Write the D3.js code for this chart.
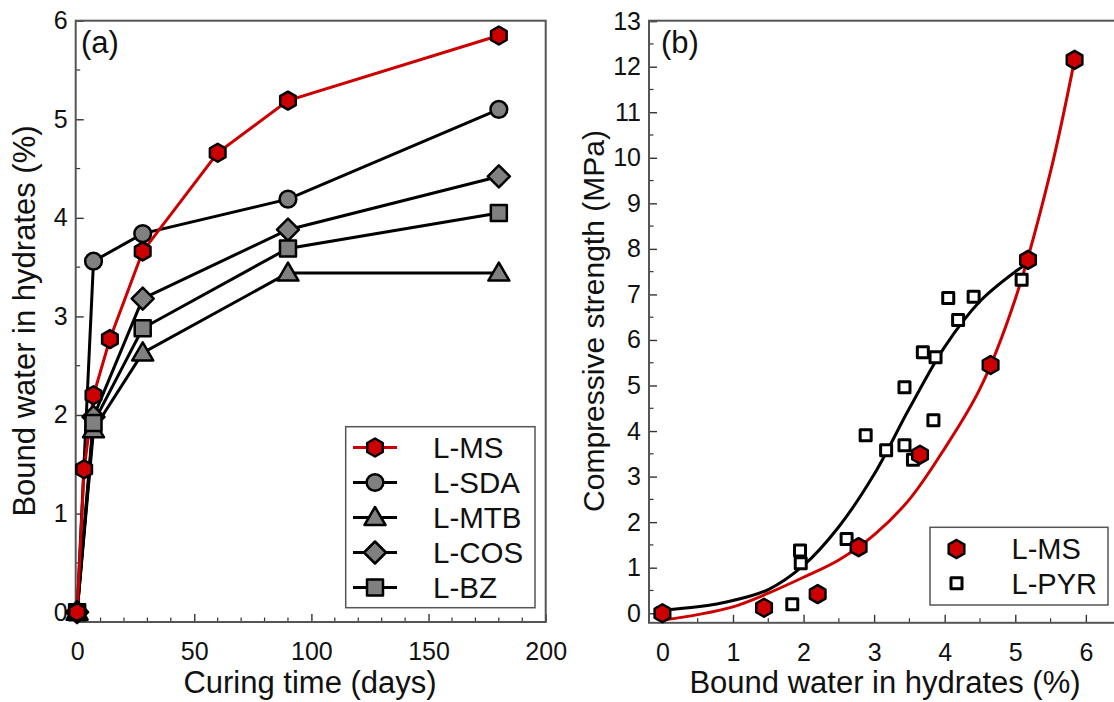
<!DOCTYPE html>
<html><head><meta charset="utf-8">
<script src="https://cdn.jsdelivr.net/npm/d3@7"></script>
<style>
body{margin:0;background:#fff;}
svg text{font-family:"Liberation Sans",Arial,sans-serif;fill:#111;}
</style></head>
<body><svg id="c" width="1114" height="702"></svg>
<script>
// ---------- DATA: panel (a) ----------
const daysMS = [0, 3, 7, 14, 28, 60, 90, 180];
const valMS = [0, 1.45, 2.2, 2.77, 3.66, 4.66, 5.19, 5.85];
const daysSDA = [0, 7, 28, 90, 180];
const valSDA = [0, 3.56, 3.84, 4.19, 5.10];
const daysMTB = [0, 7, 28, 90, 180];
const valMTB = [0, 1.85, 2.63, 3.44, 3.44];
const daysCOS = [0, 7, 28, 90, 180];
const valCOS = [0, 1.98, 3.18, 3.88, 4.42];
const daysBZ = [0, 7, 28, 90, 180];
const valBZ = [0, 1.92, 2.88, 3.69, 4.05];
const seriesNamesA = ["L-MS", "L-SDA", "L-MTB", "L-COS", "L-BZ"];
const xTicksA = [0, 50, 100, 150, 200];
const yTicksA = [0, 1, 2, 3, 4, 5, 6];

// ---------- DATA: panel (b) ----------
const bwMS = [0, 1.44, 2.20, 2.78, 3.65, 4.65, 5.18, 5.84];
const csMS = [0, 0.12, 0.42, 1.45, 3.48, 5.45, 7.76, 12.15];
const bwPYR = [0, 1.84, 1.95, 1.96, 2.61, 2.88, 3.17, 3.43, 3.43, 3.55, 3.84, 3.69, 3.87, 4.05, 4.19, 4.41, 5.09];
const csPYR = [0, 0.20, 1.38, 1.10, 1.63, 3.91, 3.58, 4.96, 3.69, 3.37, 4.24, 5.73, 5.62, 6.92, 6.44, 6.95, 7.32];
// fitted curves
const fitMSx = [0, 0.5, 1.0, 1.5, 2.0, 2.5, 3.0, 3.5, 4.0, 4.5, 5.0, 5.5, 5.84];
const fitMSy = [-0.15, -0.03, 0.14, 0.44, 0.79, 1.17, 1.72, 2.5, 3.62, 4.93, 6.9, 9.7, 12.15];
const fitPYRx = [0, 0.5, 1.0, 1.5, 2.0, 2.5, 3.0, 3.5, 4.0, 4.5, 5.0, 5.17];
const fitPYRy = [0.07, 0.14, 0.28, 0.52, 1.05, 1.9, 3.05, 4.5, 5.85, 6.85, 7.5, 7.68];
const seriesNamesB = ["L-MS", "L-PYR"];
const xTicksB = [0, 1, 2, 3, 4, 5, 6];
const yTicksB = [0,1,2,3,4,5,6,7,8,9,10,11,12,13];

const RED = "#cc0000", GREY = "#808080";
const svg = d3.select("#c");

function hexPath(r){
  let p = [];
  for (let i=0;i<6;i++){ const a = Math.PI/180*(60*i-90); p.push([r*Math.cos(a), r*Math.sin(a)]); }
  return "M" + p.map(d=>d.join(",")).join("L") + "Z";
}
const sym = {
  hex: hexPath(9),
  circle: d3.symbol(d3.symbolCircle, 220)(),
  triangle: "M0,-10.5L10.5,7.5L-10.5,7.5Z",
  diamond: "M0,-11L11,0L0,11L-11,0Z",
  square: "M-8,-8L8,-8L8,8L-8,8Z"
};

function drawAxes(g, x, y, xt, yt, xMinor, yMinor){
  const [x0,x1] = x.range(), [y0,y1] = y.range();
  g.selectAll(".xm").data(xMinor).join("line").attr("x1",d=>x(d)).attr("x2",d=>x(d))
    .attr("y1",y0).attr("y2",y0-4.5).attr("stroke","#333").attr("stroke-width",1.2);
  g.selectAll(".ym").data(yMinor).join("line").attr("y1",d=>y(d)).attr("y2",d=>y(d))
    .attr("x1",x0).attr("x2",x0+4.5).attr("stroke","#333").attr("stroke-width",1.2);
  const ax = d3.axisBottom(x).tickValues(xt).tickFormat(d3.format("d")).tickSizeInner(-8).tickSizeOuter(0).tickPadding(14);
  const ay = d3.axisLeft(y).tickValues(yt).tickFormat(d3.format("d")).tickSizeInner(-8).tickSizeOuter(0).tickPadding(8);
  const gx = g.append("g").attr("transform",`translate(0,${y0})`).call(ax);
  const gy = g.append("g").attr("transform",`translate(${x0},0)`).call(ay);
  [gx,gy].forEach(a=>{ a.select(".domain").remove();
    a.selectAll("line").attr("stroke","#333").attr("stroke-width",1.4);
    a.selectAll("text").attr("font-size",25).attr("fill","#111"); });
  gx.selectAll("text").attr("dy","0.95em");
  g.append("rect").attr("x",x0).attr("y",y1).attr("width",x1-x0).attr("height",y0-y1)
    .attr("fill","none").attr("stroke","#555").attr("stroke-width",2);
}

// ================= PANEL (a) =================
const xA = d3.scaleLinear().domain([-0.6, 200]).range([75.7, 545.7]);
const yA = d3.scaleLinear().domain([-0.1, 6]).range([622, 20.7]);
const gA = svg.append("g");
drawAxes(gA, xA, yA, xTicksA, yTicksA, d3.range(10,200,10).filter(d=>d%50), d3.range(0.5,6,1));

const seriesA = [
  {name:"L-SDA", x:daysSDA, y:valSDA, sym:"circle", fill:GREY, line:"#000"},
  {name:"L-MTB", x:daysMTB, y:valMTB, sym:"triangle", fill:GREY, line:"#000"},
  {name:"L-COS", x:daysCOS, y:valCOS, sym:"diamond", fill:GREY, line:"#000"},
  {name:"L-BZ", x:daysBZ, y:valBZ, sym:"square", fill:GREY, line:"#000"},
  {name:"L-MS", x:daysMS, y:valMS, sym:"hex", fill:RED, line:RED}
];
const lineA = d3.line().x(d=>xA(d[0])).y(d=>yA(d[1]));
seriesA.forEach(s=>{
  const pts = s.x.map((v,i)=>[v, s.y[i]]);
  gA.append("path").attr("d", lineA(pts)).attr("fill","none").attr("stroke",s.line).attr("stroke-width",3);
});
seriesA.forEach(s=>{
  const pts = s.x.map((v,i)=>[v, s.y[i]]);
  gA.selectAll(null).data(pts).join("path").attr("d", sym[s.sym])
    .attr("transform", d=>`translate(${xA(d[0])},${yA(d[1])})`)
    .attr("fill", s.fill).attr("stroke","#000").attr("stroke-width",2.5).attr("stroke-linejoin","round");
});
// legend (a)
const legA = gA.append("g");
legA.append("rect").attr("x",345.7).attr("y",426.7).attr("width",189.3).attr("height",181)
  .attr("fill","#fff").attr("stroke","#555").attr("stroke-width",1.5);
seriesNamesA.forEach((n,i)=>{
  const s = seriesA.find(d=>d.name===n);
  const cy = 447.5 + i*35;
  legA.append("line").attr("x1",353).attr("x2",397).attr("y1",cy).attr("y2",cy).attr("stroke",s.line).attr("stroke-width",3);
  legA.append("path").attr("d",sym[s.sym]).attr("transform",`translate(375,${cy})`)
    .attr("fill",s.fill).attr("stroke","#000").attr("stroke-width",2.5).attr("stroke-linejoin","round");
  legA.append("text").attr("x",433).attr("y",cy).attr("dy","0.36em").attr("font-size",29.5).text(n);
});
gA.append("text").attr("x",81).attr("y",53).attr("font-size",31).text("(a)");
gA.append("text").attr("transform","translate(310,693)").attr("text-anchor","middle").attr("font-size",31).text("Curing time (days)");
gA.append("text").attr("transform","translate(35,321) rotate(-90)").attr("text-anchor","middle").attr("font-size",31).text("Bound water in hydrates (%)");

// ================= PANEL (b) =================
const xB = d3.scaleLinear().domain([-0.19, 6.42]).range([649, 1115.5]);
const yB = d3.scaleLinear().domain([-0.21, 13.01]).range([622.8, 20.7]);
const gB = svg.append("g");
drawAxes(gB, xB, yB, xTicksB, yTicksB, d3.range(0.5,6.5,1), d3.range(0.5,13,1));

const curve = d3.line().x(d=>xB(d[0])).y(d=>yB(d[1])).curve(d3.curveCatmullRom.alpha(0.5));
gB.append("path").attr("d", curve(fitPYRx.map((v,i)=>[v, fitPYRy[i]]))).attr("fill","none").attr("stroke","#000").attr("stroke-width",3);
gB.append("path").attr("d", curve(fitMSx.map((v,i)=>[v, fitMSy[i]]))).attr("fill","none").attr("stroke",RED).attr("stroke-width",3);
const sq = "M-5.5,-5.5L5.5,-5.5L5.5,5.5L-5.5,5.5Z";
gB.selectAll(null).data(bwPYR.map((v,i)=>[v, csPYR[i]])).join("path").attr("d", sq)
  .attr("transform", d=>`translate(${xB(d[0])},${yB(d[1])})`)
  .attr("fill","#fff").attr("stroke","#000").attr("stroke-width",3).attr("stroke-linejoin","round");
gB.selectAll(null).data(bwMS.map((v,i)=>[v, csMS[i]])).join("path").attr("d", sym.hex)
  .attr("transform", d=>`translate(${xB(d[0])},${yB(d[1])})`)
  .attr("fill",RED).attr("stroke","#000").attr("stroke-width",2.5).attr("stroke-linejoin","round");
// legend (b)
const legB = gB.append("g");
legB.append("rect").attr("x",930).attr("y",527.3).attr("width",178).attr("height",77.7)
  .attr("fill","#fff").attr("stroke","#555").attr("stroke-width",1.5);
legB.append("path").attr("d",sym.hex).attr("transform","translate(956.5,549)")
  .attr("fill",RED).attr("stroke","#000").attr("stroke-width",2.5);
legB.append("path").attr("d",sq).attr("transform","translate(956.5,583.3)")
  .attr("fill","#fff").attr("stroke","#000").attr("stroke-width",3).attr("stroke-linejoin","round");
seriesNamesB.forEach((n,i)=>{
  legB.append("text").attr("x",1011.5).attr("y",549+i*34.3).attr("dy","0.36em").attr("font-size",29).text(n);
});
gB.append("text").attr("x",661).attr("y",53).attr("font-size",31).text("(b)");
gB.append("text").attr("transform","translate(885,693)").attr("text-anchor","middle").attr("font-size",31).text("Bound water in hydrates (%)");
gB.append("text").attr("transform","translate(604,321) rotate(-90)").attr("text-anchor","middle").attr("font-size",30).text("Compressive strength (MPa)");
</script></body></html>
